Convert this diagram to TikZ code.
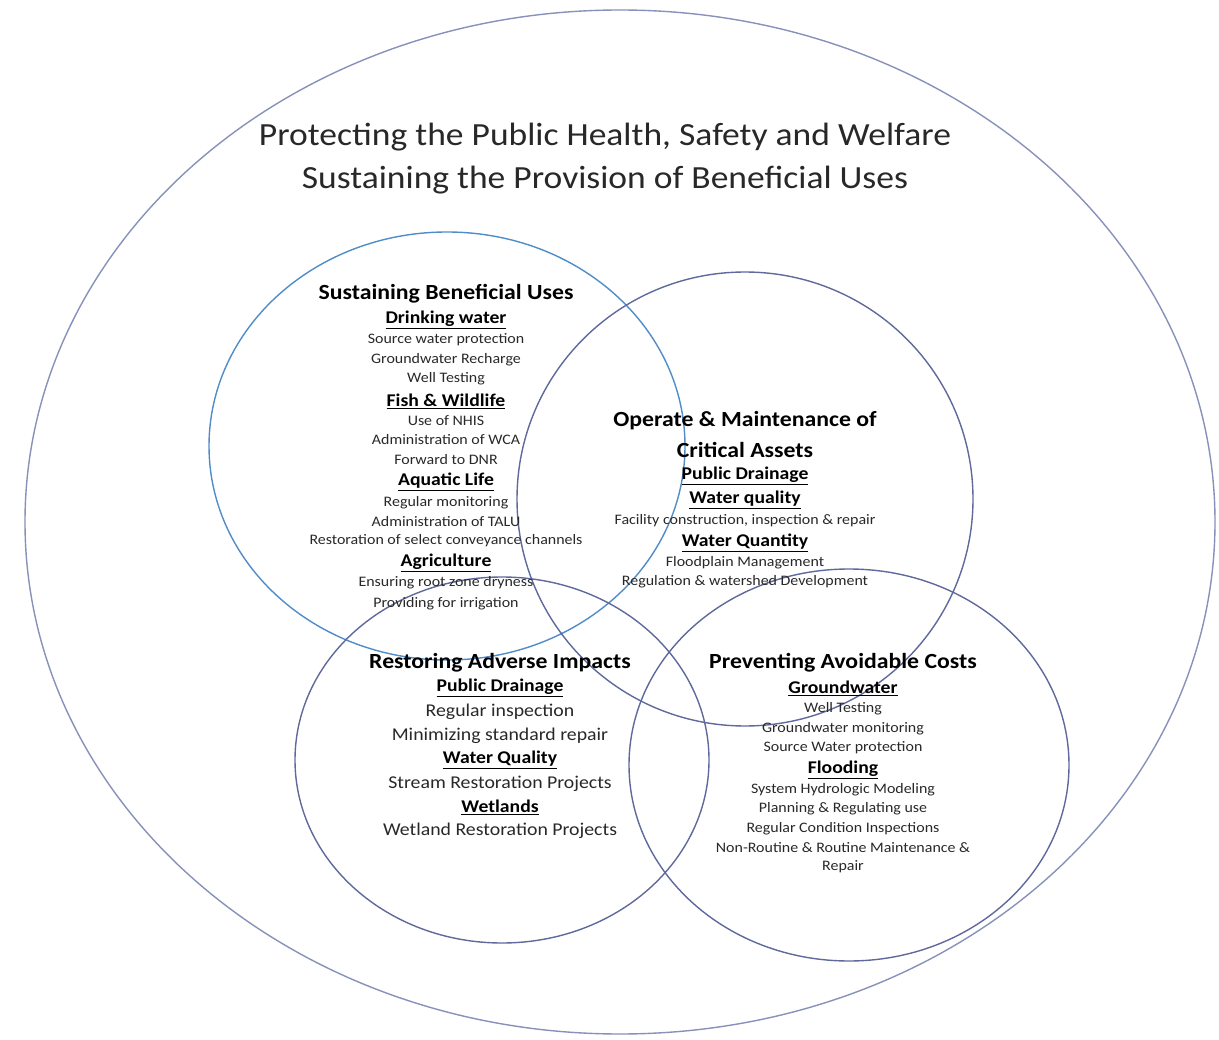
\documentclass[tikz,border=0pt]{standalone}
\usepackage{fontspec}
\setmainfont{Carlito}[FakeStretch=1.1]
\usetikzlibrary{shapes.geometric}
\definecolor{ringblue}{RGB}{80,140,200}
\definecolor{ringnavy}{RGB}{95,105,155}
\definecolor{ringouter}{RGB}{135,145,185}
\definecolor{txtgray}{RGB}{40,40,40}
\tikzset{
  ring/.style={ellipse, draw, line width=1.4pt, inner sep=0pt},
  titletxt/.style={font=\fontsize{32.3}{36}\selectfont, text=txtgray, inner sep=0pt},
  headtxt/.style={font=\bfseries\fontsize{21.6}{25}\selectfont, text=black, inner sep=0pt},
  subtxt/.style={font=\bfseries\fontsize{17.9}{21}\selectfont, text=black, inner sep=0pt},
  itemtxt/.style={font=\fontsize{14.5}{17}\selectfont, text=txtgray, inner sep=0pt},
  bigitemtxt/.style={font=\fontsize{18}{21}\selectfont, text=txtgray, inner sep=0pt},
}
\newcommand{\ul}[1]{\underline{#1}}
\begin{document}
\begin{tikzpicture}[x=1pt,y=-1pt]
\useasboundingbox (0,0) rectangle (1219,1040);
% rings
\node[ring, draw=ringouter, minimum width=1190pt, minimum height=1024pt] (outer) at (620,522) {};
\node[ring, draw=ringblue, minimum width=476pt, minimum height=428pt] (c1) at (447,446) {};
\node[ring, draw=ringnavy, minimum width=456pt, minimum height=454pt] (c2) at (745,499) {};
\node[ring, draw=ringnavy, minimum width=414pt, minimum height=366pt] (c3) at (502,760) {};
\node[ring, draw=ringnavy, minimum width=440pt, minimum height=392pt] (c4) at (849,765) {};
% title
\node[titletxt] (t1) at (605,137) {Protecting the Public Health, Safety and Welfare};
\node[titletxt] (t2) at (605,180) {Sustaining the Provision of Beneficial Uses};
% Sustaining Beneficial Uses
\node[headtxt] (s0) at (446,294) {Sustaining Beneficial Uses};
\node[subtxt] (s1) at (446,320) {\ul{Drinking water}};
\node[itemtxt] (s2) at (446,340) {Source water protection};
\node[itemtxt] (s3) at (446,360) {Groundwater Recharge};
\node[itemtxt] (s4) at (446,379) {Well Testing};
\node[subtxt] (s5) at (446,401) {\ul{Fish \& Wildlife}};
\node[itemtxt] (s6) at (446,421) {Use of NHIS};
\node[itemtxt] (s7) at (446,440) {Administration of WCA};
\node[itemtxt] (s8) at (446,460) {Forward to DNR};
\node[subtxt] (s9) at (446,482) {\ul{Aquatic Life}};
\node[itemtxt] (s10) at (446,503) {Regular monitoring};
\node[itemtxt] (s11) at (446,522) {Administration of TALU};
\node[itemtxt] (s12) at (446,541) {Restoration of select conveyance channels};
\node[subtxt] (s13) at (446,563) {\ul{Agriculture}};
\node[itemtxt] (s14) at (446,583) {Ensuring root zone dryness};
\node[itemtxt] (s15) at (446,604) {Providing for irrigation};
% Operate & Maintenance
\node[headtxt] (o0) at (745,421) {Operate \& Maintenance of};
\node[headtxt] (o1) at (745,450) {Critical Assets};
\node[subtxt] (o2) at (745,476) {\ul{Public Drainage}};
\node[subtxt] (o3) at (745,500) {\ul{Water quality}};
\node[itemtxt] (o4) at (745,521) {Facility construction, inspection \& repair};
\node[subtxt] (o5) at (745,543) {\ul{Water Quantity}};
\node[itemtxt] (o6) at (745,563) {Floodplain Management};
\node[itemtxt] (o7) at (745,582) {Regulation \& watershed Development};
% Restoring Adverse Impacts
\node[headtxt] (r0) at (500,663) {Restoring Adverse Impacts};
\node[subtxt] (r1) at (500,688) {\ul{Public Drainage}};
\node[bigitemtxt] (r2) at (500,712) {Regular inspection};
\node[bigitemtxt] (r3) at (500,736) {Minimizing standard repair};
\node[subtxt] (r4) at (500,760) {\ul{Water Quality}};
\node[bigitemtxt] (r5) at (500,784) {Stream Restoration Projects};
\node[subtxt] (r6) at (500,807) {\ul{Wetlands}};
\node[bigitemtxt] (r7) at (500,831) {Wetland Restoration Projects};
% Preventing Avoidable Costs
\node[headtxt] (p0) at (843,663) {Preventing Avoidable Costs};
\node[subtxt] (p1) at (843,688) {\ul{Groundwater}};
\node[itemtxt] (p2) at (843,709) {Well Testing};
\node[itemtxt] (p3) at (843,729) {Groundwater monitoring};
\node[itemtxt] (p4) at (843,748) {Source Water protection};
\node[subtxt] (p5) at (843,770) {\ul{Flooding}};
\node[itemtxt] (p6) at (843,790) {System Hydrologic Modeling};
\node[itemtxt] (p7) at (843,809) {Planning \& Regulating use};
\node[itemtxt] (p8) at (843,829) {Regular Condition Inspections};
\node[itemtxt] (p9) at (843,848) {Non-Routine \& Routine Maintenance \&};
\node[itemtxt] (p10) at (843,867) {Repair};
\end{tikzpicture}
\end{document}
